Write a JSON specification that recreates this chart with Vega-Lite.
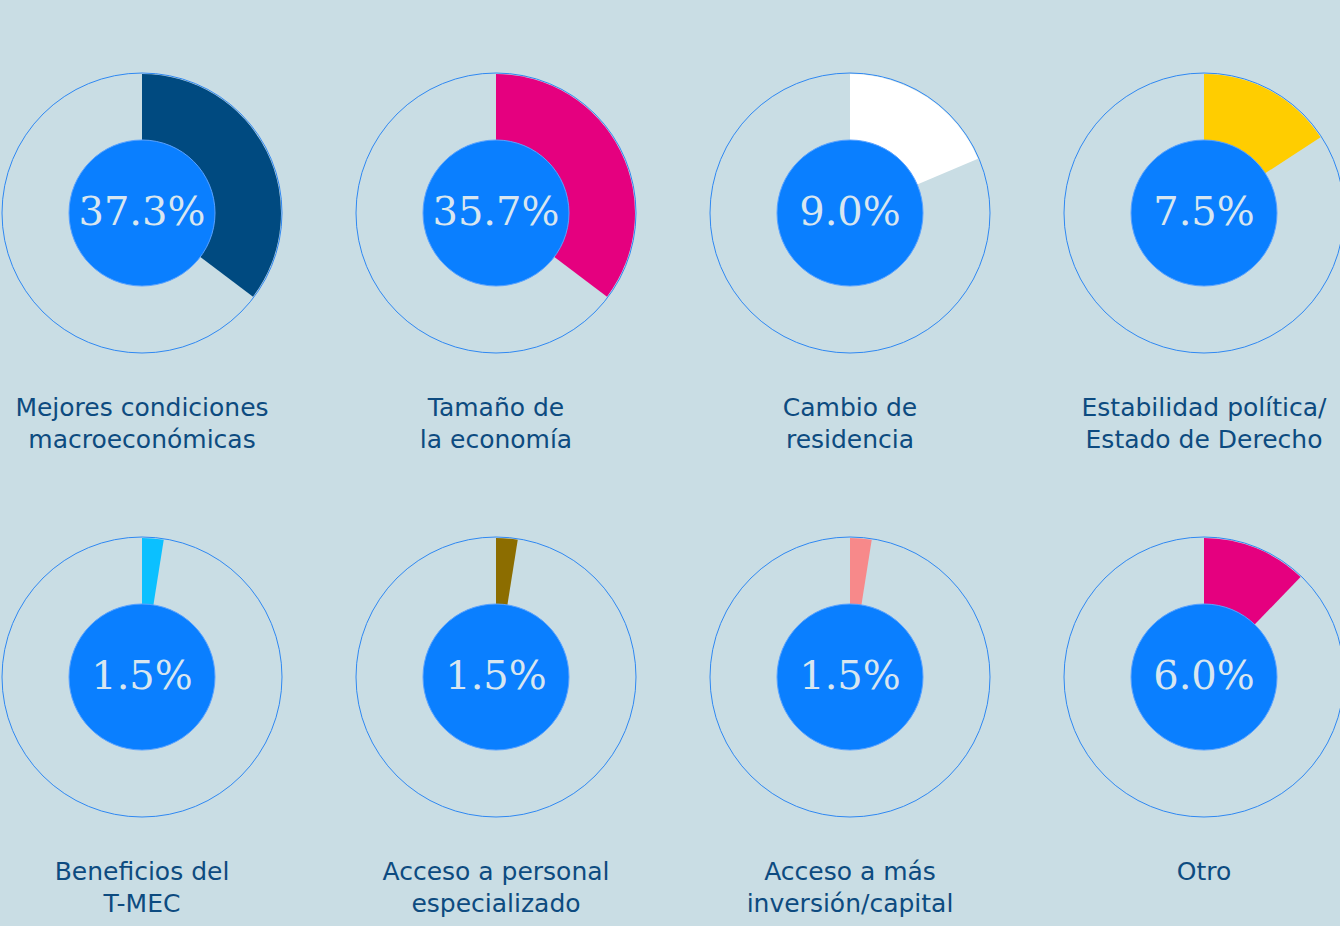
{
  "$schema": "https://vega.github.io/schema/vega-lite/v6.json",
  "background": "#c9dde4",
  "padding": {"left": 0, "top": 0, "right": 0, "bottom": 14},
  "data": {
    "values": [
      {"order": 1, "cat": "Mejores condiciones macroeconómicas", "label": "Mejores condiciones\nmacroeconómicas", "pct": "37.3%", "wedge": 127},
      {"order": 2, "cat": "Tamaño de la economía", "label": "Tamaño de\nla economía", "pct": "35.7%", "wedge": 127},
      {"order": 3, "cat": "Cambio de residencia", "label": "Cambio de\nresidencia", "pct": "9.0%", "wedge": 67},
      {"order": 4, "cat": "Estabilidad política/Estado de Derecho", "label": "Estabilidad política/\nEstado de Derecho", "pct": "7.5%", "wedge": 57},
      {"order": 5, "cat": "Beneficios del T-MEC", "label": "Beneficios del\nT-MEC", "pct": "1.5%", "wedge": 9},
      {"order": 6, "cat": "Acceso a personal especializado", "label": "Acceso a personal\nespecializado", "pct": "1.5%", "wedge": 9},
      {"order": 7, "cat": "Acceso a más inversión/capital", "label": "Acceso a más\ninversión/capital", "pct": "1.5%", "wedge": 9},
      {"order": 8, "cat": "Otro", "label": "Otro", "pct": "6.0%", "wedge": 44}
    ]
  },
  "facet": {"field": "order", "type": "ordinal", "title": null, "header": {"labelExpr": "''", "labelFontSize": 0, "labelPadding": 0, "title": null, "titlePadding": 0}},
  "columns": 4,
  "spacing": {"row": 11, "column": 70},
  "spec": {
    "width": 280,
    "height": 426,
    "layer": [
      {
        "mark": {"type": "arc", "theta": 0, "theta2": 6.2832, "radius": 140, "filled": false, "stroke": "#2f88f2", "strokeWidth": 1},
        "encoding": {}
      },
      {
        "mark": {"type": "arc", "radius": 139},
        "encoding": {
          "theta": {"field": "wedge", "type": "quantitative", "stack": null, "scale": {"domain": [0, 360], "range": [0, 6.283185]}},
          "color": {
            "field": "cat", "type": "nominal", "legend": null,
            "scale": {
              "domain": ["Mejores condiciones macroeconómicas", "Tamaño de la economía", "Cambio de residencia", "Estabilidad política/Estado de Derecho", "Beneficios del T-MEC", "Acceso a personal especializado", "Acceso a más inversión/capital", "Otro"],
              "range": ["#004a80", "#e5007f", "#ffffff", "#ffcd00", "#0bc0ff", "#8c6d00", "#f7898a", "#e5007f"]
            }
          }
        }
      },
      {
        "mark": {"type": "arc", "theta": 0, "theta2": 6.2832, "radius": 73, "fill": "#0a7fff", "stroke": "#5aa2ff", "strokeWidth": 1},
        "encoding": {}
      },
      {
        "mark": {"type": "text", "font": "DejaVu Serif", "fontSize": 40, "color": "#d8e6f0", "baseline": "middle", "align": "center"},
        "encoding": {"text": {"field": "pct"}}
      },
      {
        "mark": {"type": "text", "font": "DejaVu Sans", "fontSize": 25, "color": "#0d4b80", "baseline": "alphabetic", "align": "center", "dy": 203, "lineBreak": "\n", "lineHeight": 32},
        "encoding": {"text": {"field": "label"}}
      }
    ]
  },
  "config": {
    "view": {"stroke": null}
  }
}
